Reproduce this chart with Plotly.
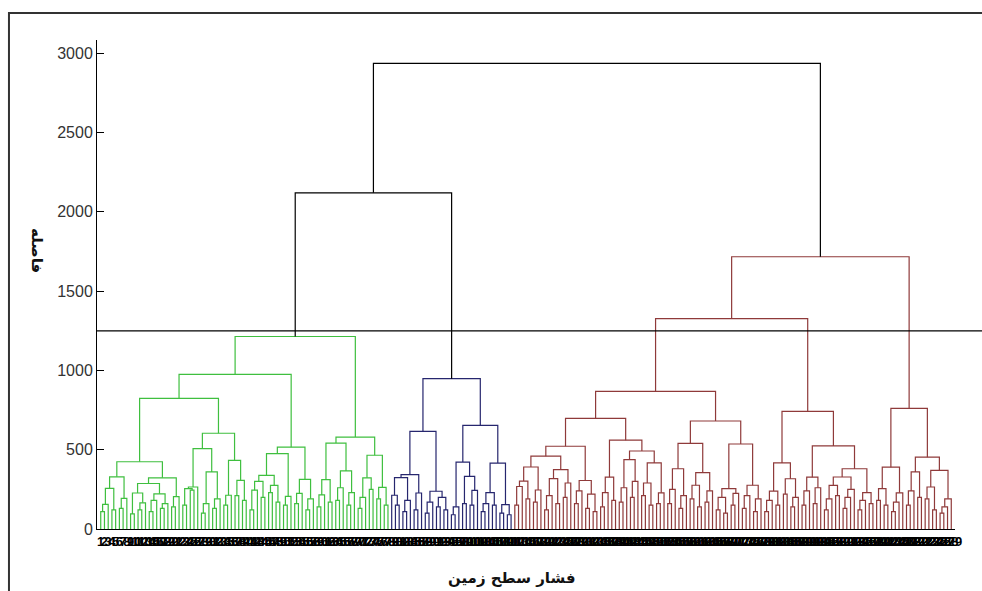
import plotly.graph_objects as go

# linkage of each cluster, leaves from left to right
# "o" = one observation, "[h A B]" = A and B joined at distance h
green_tree = """
[1214
  [975
    [824
      [424
        [329 [256 [155 [109 o o] o] [120 o o]] [193 [130 o o] o]]
        [323 [287 [227 [95 o o] [165 [120 o o] o]] [222 [180 [110 o o] o] [160 [130 o o] o]]]
             [204 [140 o o] o]]]
      [604
        [507 [265 [255 [150 o o] [245 o o]] o]
             [360 [160 [100 o o] o] [190 [130 o o] o]]]
        [433 [213 [150 o o] o]
             [307 [210 o o] [180 o o]]]]]
    [516
      [475 [338 [300 [245 [120 o o] o] [200 o o]]
                [275 [230 o o] [170 o o]]]
           [206 [150 o o] o]]
      [313 [225 [160 o o] o] [190 [120 o o] o]]]]
  [580
    [542 [311 [215 [140 o o] o] [170 o o]]
         [366 [260 [180 o o] o] [230 [150 o o] o]]]
    [465 [323 [200 [130 o o] o] [250 o o]]
         [262 [190 o o] [150 o o]]]]]
"""

navy_tree = """
[948
  [616
    [343 [324 [213 o [150 o o]] [180 [110 o o] o]]
         [227 [120 o o] o]]
    [238 [170 [100 o o] o] [200 [140 o o] [120 o o]]]]
  [654
    [422 [140 [90 o o] o]
         [332 [160 o o] [244 [150 o o] o]]]
    [416 [229 [160 [110 o o] o] [150 o o]]
         [154 [100 o o] [90 o o]]]]]
"""

red_tree = """
[1717
  [1327
    [868
      [698
        [522
          [459 [391 [302 [268 [150 o o] o] [190 o o]] [246 [170 o o] o]]
               [375 [318 [210 [120 o o] o] [160 o o]] [290 [200 o o] o]]]
          [306 [240 [160 o o] o] [220 [130 o o] [110 o o]]]]
        [560
          [327 [230 [140 o o] o] [180 o o]]
          [492 [438 [260 [170 o o] o] [300 [200 o o] o]]
               [417 [290 [210 o o] [150 o o]] [228 [160 o o] o]]]]]
      [681
        [540 [380 [250 [160 o o] o] [210 [130 o o] o]]
             [356 [276 [190 o o] [140 o o]] [241 [170 o o] o]]]
        [536 [255 [200 [120 o o] [100 o o]] [225 [150 o o] o]]
             [276 [210 [130 o o] o] [190 [110 o o] o]]]]]
    [742
      [417 [239 [180 [110 o o] o] [150 o o]]
           [317 [220 o o] [200 [140 o o] o]]]
      [524 [327 [240 [150 o o] o] [260 [160 o o] o]]
           [380 [328 [275 [190 [120 o o] o] [210 o o]] [250 [200 [130 o o] o] o]]
                [230 [180 [120 o o] o] [160 o o]]]]]]
  [761
    [390 [255 [180 o o] [150 o o]]
         [228 [170 [110 o o] o] o]]
    [453 [360 [240 [150 o o] o] [200 o o]]
         [370 [265 [190 o o] [120 o o]]
              [190 [140 [100 o o] o] o]]]]]
"""

cluster_colors = ['#3fbf3f', '#26266e', '#8f3a3a']
join_green_navy = 2120
join_all = 2937
cut_level = 1250
y_ticks = [0, 500, 1000, 1500, 2000, 2500, 3000]
y_title = 'فاصله'
x_title = 'فشار سطح زمین'


def parse(text):
    tokens = text.replace('[', ' [ ').replace(']', ' ] ').split()
    pos = 0

    def node():
        nonlocal pos
        t = tokens[pos]
        pos += 1
        if t == 'o':
            return None
        h = float(tokens[pos])
        pos += 1
        a = node()
        b = node()
        pos += 1  # closing bracket
        return (h, a, b)
    return node()


leaf_x = []
segs = {}


def add_link(color, x1, h1, x2, h2, h):
    xs, ys = segs.setdefault(color, ([], []))
    xs += [x1, x1, x2, x2, None]
    ys += [h1, h, h, h2, None]


def place(n, color):
    if n is None:
        leaf_x.append(len(leaf_x) + 1)
        return leaf_x[-1], 0
    h, a, b = n
    x1, h1 = place(a, color)
    x2, h2 = place(b, color)
    add_link(color, x1, h1, x2, h2, h)
    return (x1 + x2) / 2, h


g = place(parse(green_tree), cluster_colors[0])
nv = place(parse(navy_tree), cluster_colors[1])
r = place(parse(red_tree), cluster_colors[2])
add_link('black', g[0], g[1], nv[0], nv[1], join_green_navy)
gn = ((g[0] + nv[0]) / 2, join_green_navy)
add_link('black', gn[0], gn[1], r[0], r[1], join_all)

n_leaves = len(leaf_x)

fig = go.Figure()
for color, (xs, ys) in segs.items():
    fig.add_trace(go.Scatter(x=xs, y=ys, mode='lines',
                             line=dict(color=color, width=1.2),
                             hoverinfo='skip'))

# cut level, running out to the edge of the figure
fig.add_shape(type='line', xref='paper', yref='y', x0=0, x1=(982 - 97) / 858,
              y0=cut_level, y1=cut_level, line=dict(color='black', width=1.3))
# figure frame
fig.add_shape(type='rect', xref='paper', yref='paper', x0=-0.1026, x1=1.2,
              y0=-0.3, y1=1.0552, line=dict(color='#333', width=2))

fig.add_annotation(x=-0.0699, y=0.5706, xref='paper', yref='paper',
                   xanchor='center', yanchor='middle',
                   text='<b>' + y_title + '</b>', textangle=90, showarrow=False,
                   font=dict(family='DejaVu Sans', size=15, color='#111'))
fig.add_annotation(x=0.4837, y=-0.1002, xref='paper', yref='paper',
                   xanchor='center', yanchor='middle',
                   text='<b>' + x_title + '</b>', showarrow=False,
                   font=dict(family='DejaVu Sans', size=15, color='#111'))

fig.update_layout(
    width=982, height=591,
    margin=dict(l=97, r=27, t=40, b=62),
    plot_bgcolor='white', paper_bgcolor='white',
    showlegend=False,
    font=dict(family='Liberation Sans', color='#222'),
    xaxis=dict(range=[0, n_leaves + 1], tickvals=leaf_x,
               ticktext=['<b>%d</b>' % i for i in leaf_x], tickangle=0, ticks='',
               tickfont=dict(size=13, color='black'), showgrid=False,
               zeroline=False, showline=True, linecolor='black', linewidth=1),
    yaxis=dict(range=[0, 3084], tickvals=y_ticks, ticks='inside', ticklen=7,
               tickcolor='black', tickfont=dict(size=16, color='#333'),
               showgrid=False, zeroline=False, showline=True,
               linecolor='black', linewidth=1),
)

# page has a default body margin; drop it so the figure fills the window
fig.write_html('out.html', config={'displayModeBar': False},
               post_script="document.body.style.margin='0px';")
